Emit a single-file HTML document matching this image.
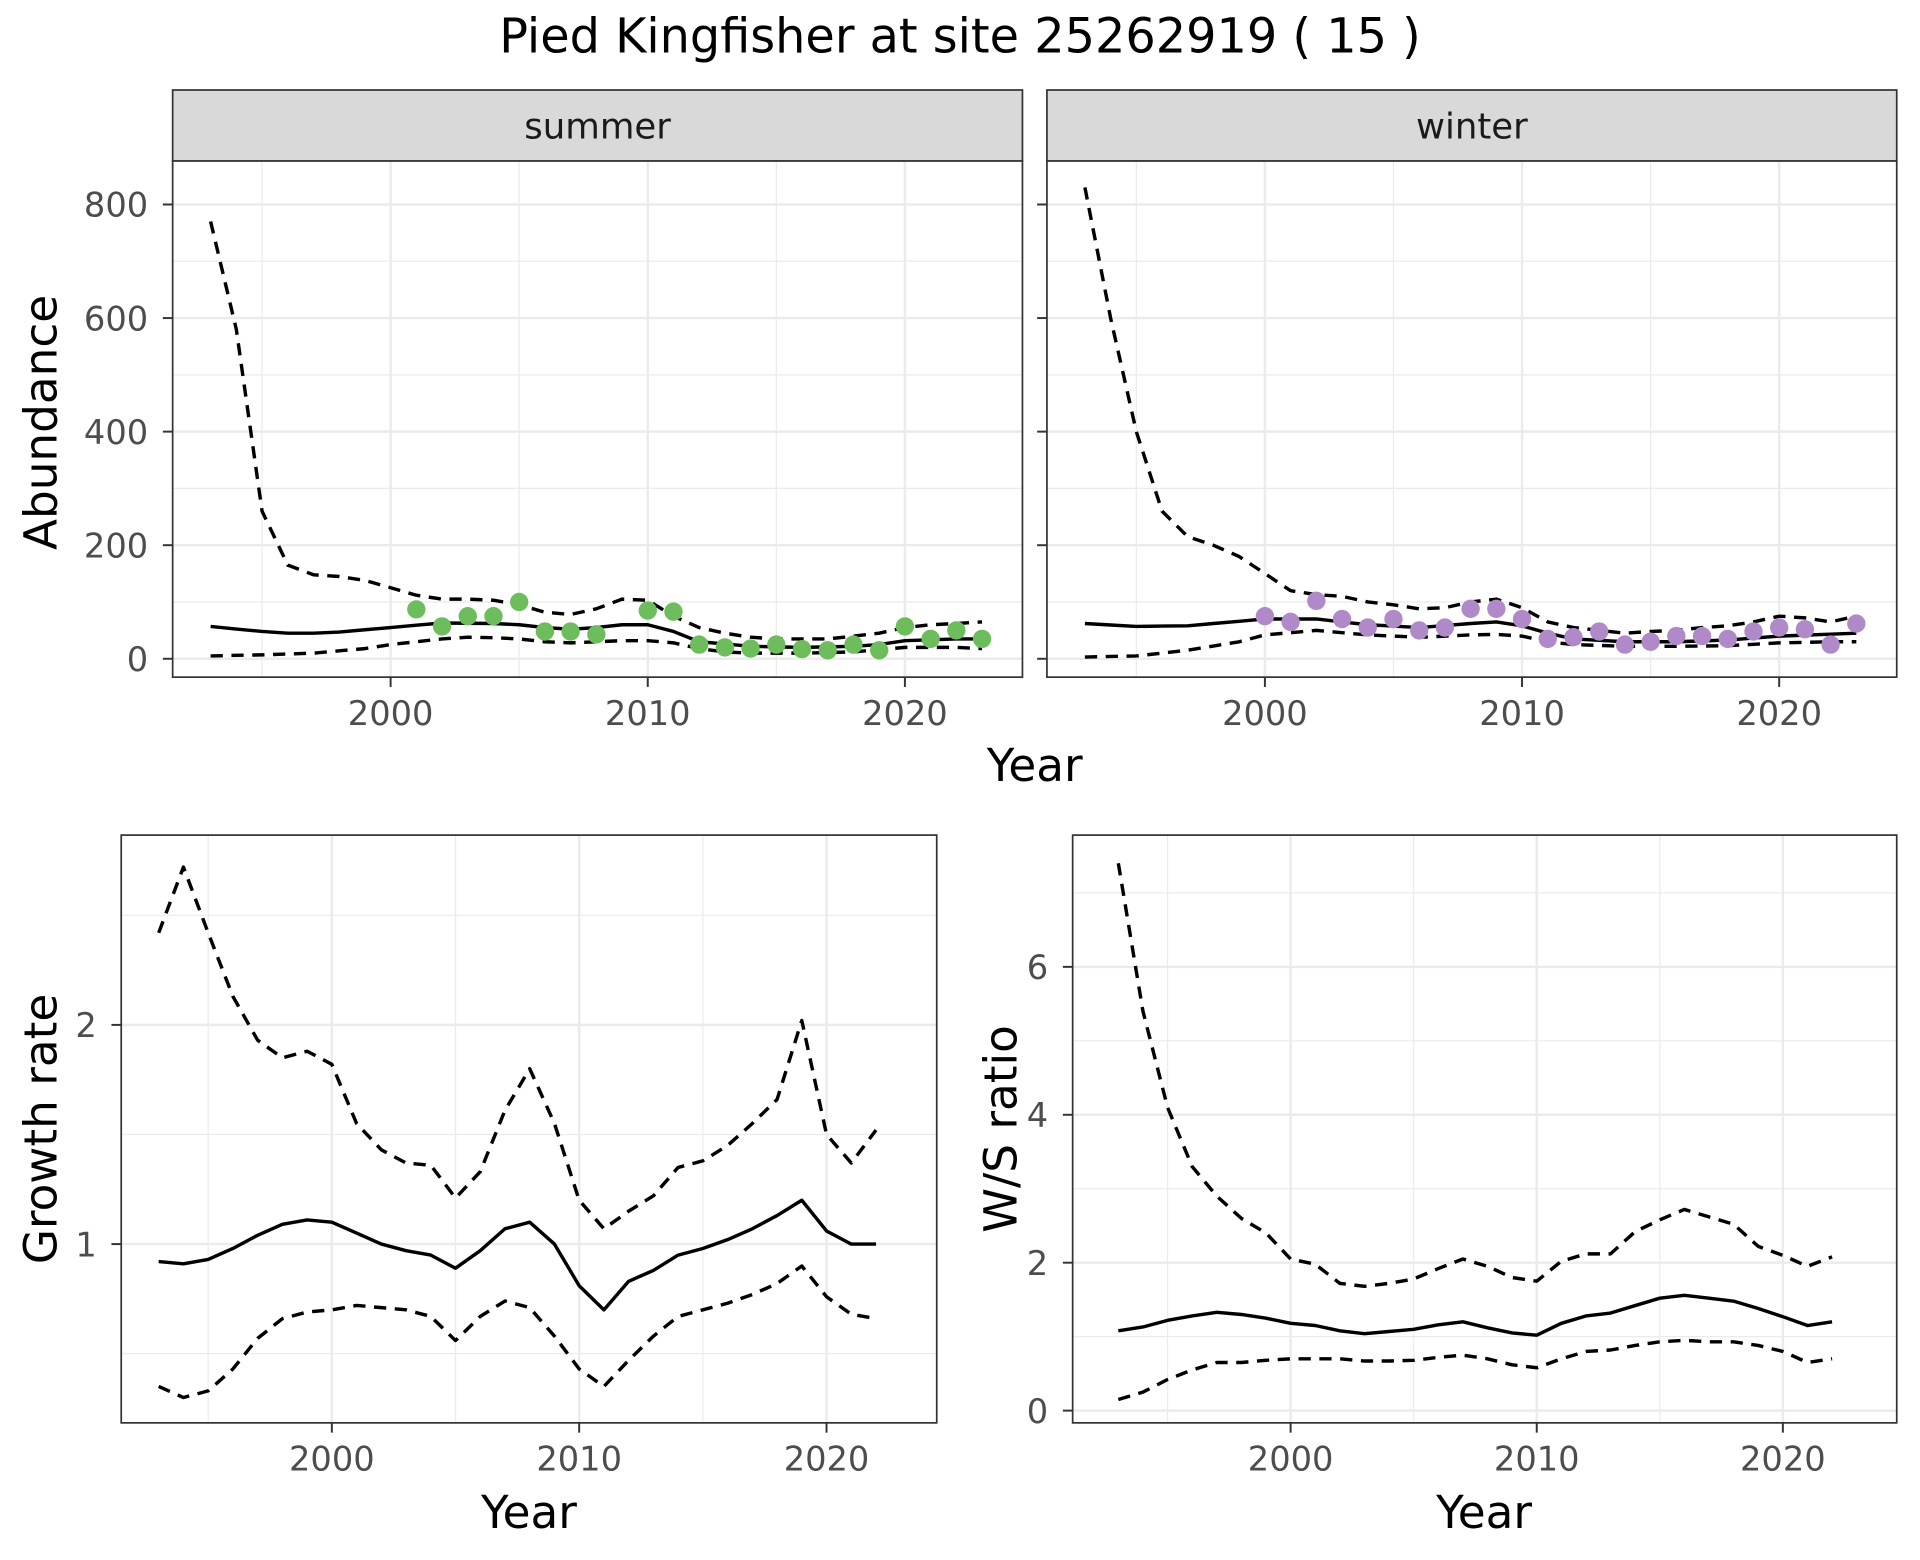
<!DOCTYPE html>
<html><head><meta charset="utf-8"><style>html,body{margin:0;padding:0;background:#fff}svg{display:block}</style></head>
<body>
<svg id="s" width="1920" height="1560" viewBox="0 0 1568 1274" xmlns="http://www.w3.org/2000/svg" font-family="DejaVu Sans, Liberation Sans, sans-serif">
<rect width="1568" height="1274" fill="#fff"/>
<text x="784" y="43" font-size="39" text-anchor="middle" fill="#000">Pied Kingfisher at site 25262919 ( 15 )</text>
<g id="g"></g>
</svg>
<script>
const g=document.getElementById('g');let h='';
function yrs(a,b){const r=[];for(let i=a;i<=b;i++)r.push(i);return r;}
function interp(pts,years){
 const P=[];for(let i=0;i<pts.length;i+=2)P.push([pts[i],pts[i+1]]);
 return years.map(y=>{for(let i=0;i<P.length-1;i++){if(y>=P[i][0]&&y<=P[i+1][0]){const t=(y-P[i][0])/(P[i+1][0]-P[i][0]);return P[i][1]+t*(P[i+1][1]-P[i][1]);}}return P[P.length-1][1];});}
function panel(o){
 const {x0,x1,y0,y1,xm,ym}=o;
 h+=`<rect x="${x0}" y="${y0}" width="${x1-x0}" height="${y1-y0}" fill="#fff"/>`;
 o.ymin.forEach(v=>{const y=ym(v);h+=`<line x1="${x0}" x2="${x1}" y1="${y}" y2="${y}" stroke="#EBEBEB" stroke-width="1"/>`});
 [1995,2005,2015].forEach(v=>{const x=xm(v);h+=`<line x1="${x}" x2="${x}" y1="${y0}" y2="${y1}" stroke="#EBEBEB" stroke-width="1"/>`});
 o.ymaj.forEach(v=>{const y=ym(v);h+=`<line x1="${x0}" x2="${x1}" y1="${y}" y2="${y}" stroke="#EBEBEB" stroke-width="2"/>`});
 [2000,2010,2020].forEach(v=>{const x=xm(v);h+=`<line x1="${x}" x2="${x}" y1="${y0}" y2="${y1}" stroke="#EBEBEB" stroke-width="2"/>`});
 o.series.forEach(s=>{const d=s.ys.map((v,i)=>(i?'L':'M')+xm(s.xs[i]).toFixed(1)+','+ym(v).toFixed(1)).join('');
  h+=`<path d="${d}" fill="none" stroke="#000" stroke-width="2.8" stroke-linejoin="round" ${s.dash?'stroke-dasharray="10,7"':''}/>`;});
 if(o.pts){for(let i=0;i<o.pts.length;i+=2)h+=`<circle cx="${xm(o.pts[i])}" cy="${ym(o.pts[i+1])}" r="7.5" fill="${o.pc}"/>`;}
 h+=`<rect x="${x0}" y="${y0}" width="${x1-x0}" height="${y1-y0}" fill="none" stroke="#333" stroke-width="1.4"/>`;
 [2000,2010,2020].forEach(v=>{const x=xm(v);h+=`<line x1="${x}" x2="${x}" y1="${y1}" y2="${y1+8}" stroke="#333" stroke-width="1.6"/><text x="${x}" y="${y1+39}" font-size="27.5" text-anchor="middle" fill="#4D4D4D">${v}</text>`});
 if(o.ylab!==false)o.ymaj.forEach(v=>{const y=ym(v);h+=`<line x1="${x0-8}" x2="${x0}" y1="${y}" y2="${y}" stroke="#333" stroke-width="1.6"/><text x="${x0-20}" y="${y+10}" font-size="27.5" text-anchor="end" fill="#4D4D4D">${v}</text>`});
 else o.ymaj.forEach(v=>{const y=ym(v);h+=`<line x1="${x0-8}" x2="${x0}" y1="${y}" y2="${y}" stroke="#333" stroke-width="1.6"/>`});
}
const Y=yrs(1993,2023);
const ymTop=v=>538-v*92.75/200;
const sM=interp([1993,57,1995,48,1996,45,1997,45,1998,47,2000,55,2002,63,2004,62,2005,60,2006,55,2007,52,2008,55,2009,60,2010,60,2011,48,2012,30,2014,22,2016,20,2018,22,2019,25,2020,32,2022,35,2023,35],Y);
const sU=[770,580,260,165,148,145,138,125,112,105,105,103,95,82,78,88,105,103,75,55,45,38,35,35,35,40,45,55,60,62,65];
const sL=interp([1993,5,1995,7,1997,10,1999,18,2000,25,2001,30,2002,35,2003,38,2004,37,2005,35,2006,30,2007,28,2008,30,2009,32,2010,32,2011,28,2012,18,2013,12,2014,10,2016,10,2018,12,2020,20,2022,20,2023,18],Y);
h+=`<rect x="141" y="73.5" width="694" height="58" fill="#D9D9D9" stroke="#333" stroke-width="1.4"/><text x="488" y="113" font-size="29" text-anchor="middle" fill="#1A1A1A">summer</text>`;
panel({x0:141,x1:835,y0:131.5,y1:553,xm:v=>172+(v-1993)*21,ym:ymTop,ymaj:[0,200,400,600,800],ymin:[100,300,500,700],
 series:[{xs:Y,ys:sU,dash:1},{xs:Y,ys:sM},{xs:Y,ys:sL,dash:1}],
 pts:[2001,87,2002,57,2003,75,2004,75,2005,100,2006,48,2007,48,2008,43,2010,85,2011,83,2012,25,2013,20,2014,18,2015,25,2016,17,2017,15,2018,25,2019,15,2020,57,2021,35,2022,50,2023,35],pc:"#6DBD5D"});
const wM=interp([1993,62,1995,57,1997,58,2000,70,2002,70,2004,60,2006,55,2008,62,2009,65,2010,58,2011,45,2012,35,2014,30,2016,30,2018,33,2020,40,2023,45],Y);
const wU=[830,600,400,260,215,200,180,150,120,113,110,100,95,88,90,100,105,90,65,55,50,45,48,50,55,58,65,75,72,65,75];
const wL=interp([1993,3,1995,5,1997,15,1999,30,2000,42,2002,50,2004,42,2006,38,2008,42,2009,43,2010,40,2011,30,2012,25,2014,22,2016,22,2018,23,2020,28,2022,30,2023,30],Y);
h+=`<rect x="855" y="73.5" width="694" height="58" fill="#D9D9D9" stroke="#333" stroke-width="1.4"/><text x="1202" y="113" font-size="29" text-anchor="middle" fill="#1A1A1A">winter</text>`;
panel({x0:855,x1:1549,y0:131.5,y1:553,xm:v=>886+(v-1993)*21,ym:ymTop,ymaj:[0,200,400,600,800],ymin:[100,300,500,700],ylab:false,
 series:[{xs:Y,ys:wU,dash:1},{xs:Y,ys:wM},{xs:Y,ys:wL,dash:1}],
 pts:[2000,75,2001,65,2002,102,2003,70,2004,55,2005,70,2006,50,2007,55,2008,88,2009,88,2010,70,2011,35,2012,38,2013,48,2014,25,2015,30,2016,40,2017,40,2018,35,2019,48,2020,55,2021,52,2022,25,2023,62],pc:"#B08AC8"});
h+=`<text x="46" y="345" font-size="37" text-anchor="middle" transform="rotate(-90 46 345)">Abundance</text><text x="845" y="638" font-size="37" text-anchor="middle">Year</text>`;
const Y2=yrs(1993,2022);
panel({x0:99,x1:765,y0:682,y1:1162,xm:v=>271+(v-2000)*20.2,ym:v=>1016-(v-1)*179,ymaj:[1,2],ymin:[0.5,1.5,2.5],
 series:[{xs:Y2,ys:[2.42,2.72,2.42,2.13,1.93,1.85,1.88,1.82,1.55,1.43,1.37,1.36,1.21,1.33,1.61,1.80,1.55,1.20,1.07,1.15,1.22,1.35,1.38,1.45,1.55,1.66,2.02,1.50,1.37,1.52],dash:1},
 {xs:Y2,ys:[.92,.91,.93,.98,1.04,1.09,1.11,1.10,1.05,1.00,.97,.95,.89,.97,1.07,1.10,1.00,.81,.70,.83,.88,.95,.98,1.02,1.07,1.13,1.20,1.06,1.00,1.00]},
 {xs:Y2,ys:[.35,.30,.33,.43,.57,.66,.69,.70,.72,.71,.70,.67,.56,.67,.74,.71,.58,.43,.35,.47,.58,.67,.70,.73,.77,.82,.90,.76,.68,.66],dash:1}]});
h+=`<text x="46" y="922" font-size="37" text-anchor="middle" transform="rotate(-90 46 922)">Growth rate</text><text x="432" y="1248" font-size="37" text-anchor="middle">Year</text>`;
panel({x0:876,x1:1549,y0:682,y1:1162,xm:v=>1054+(v-2000)*20.1,ym:v=>1152-v*60.4,ymaj:[0,2,4,6],ymin:[1,3,5,7],
 series:[{xs:Y2,ys:[7.4,5.4,4.1,3.3,2.9,2.6,2.4,2.05,1.98,1.72,1.68,1.72,1.78,1.92,2.05,1.95,1.80,1.75,2.02,2.12,2.12,2.42,2.58,2.72,2.62,2.52,2.22,2.10,1.95,2.08],dash:1},
 {xs:Y2,ys:[1.08,1.13,1.22,1.28,1.33,1.30,1.25,1.18,1.15,1.08,1.04,1.07,1.10,1.16,1.20,1.12,1.05,1.02,1.18,1.28,1.32,1.42,1.52,1.56,1.52,1.48,1.38,1.27,1.15,1.20]},
 {xs:Y2,ys:[.15,.25,.42,.55,.65,.65,.68,.70,.70,.70,.67,.67,.68,.72,.75,.70,.62,.58,.70,.80,.82,.88,.93,.95,.93,.93,.88,.80,.65,.70],dash:1}]});
h+=`<text x="830" y="922" font-size="37" text-anchor="middle" transform="rotate(-90 830 922)">W/S ratio</text><text x="1212" y="1248" font-size="37" text-anchor="middle">Year</text>`;
g.innerHTML=h;
</script>
</body></html>
